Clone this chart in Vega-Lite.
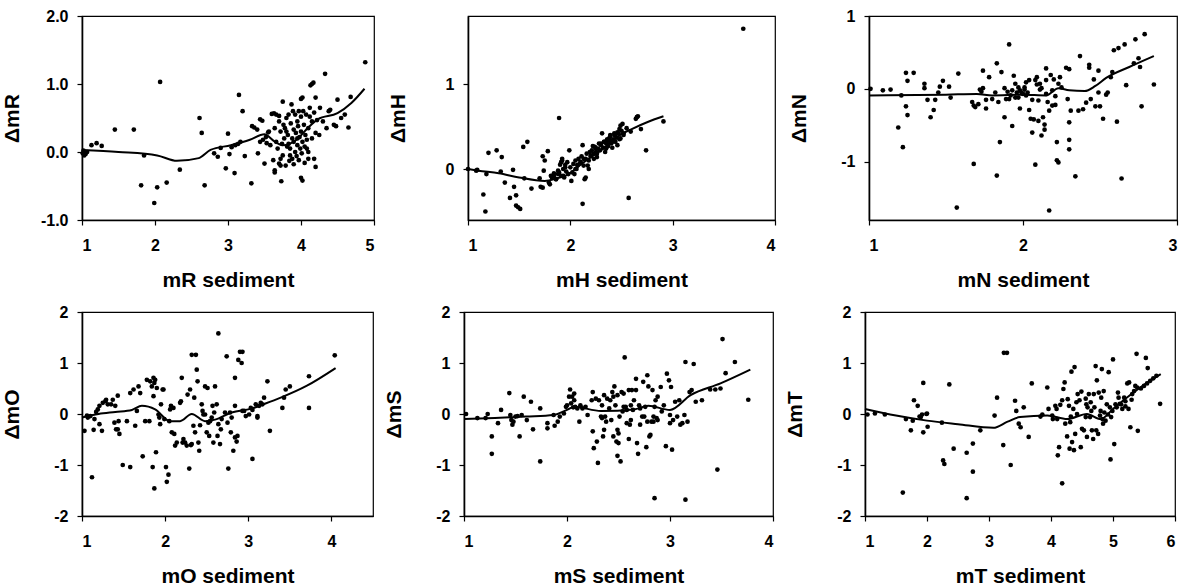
{
"$schema": "https://vega.github.io/schema/vega-lite/v6.json",
"padding": {"left": 0, "top": 7, "right": 0, "bottom": 0},
"background": "white",
"config": {
 "locale": {"number": {"decimal": ".", "thousands": ",", "grouping": [3], "currency": ["$", ""], "minus": "-"}},
 "font": "Liberation Sans",
 "view": {"stroke": "black", "strokeWidth": 1.2},
 "axis": {"grid": false, "domainColor": "black", "domainWidth": 1.6, "tickColor": "black", "tickSize": 5, "tickWidth": 1.2, "labelColor": "black", "labelFont": "Liberation Sans", "labelFontSize": 16, "labelFontWeight": "bold", "titleColor": "black", "titleFont": "Liberation Sans", "titleFontSize": 21, "titleFontWeight": "bold", "labelOverlap": false},
 "axisX": {"labelPadding": 12, "minExtent": 33, "maxExtent": 33, "titlePadding": 16, "format": ".0f"},
 "axisY": {"labelPadding": 9, "minExtent": 42, "maxExtent": 42, "titlePadding": 18},
 "circle": {"color": "black", "size": 22, "opacity": 1},
 "line": {"color": "black", "strokeWidth": 2, "interpolate": "monotone"}
},
"datasets": {
"p1": [{"x":1.01,"y":-0.02},{"x":1.03,"y":-0.05},{"x":1.05,"y":-0.03},{"x":1.07,"y":0.0},{"x":1.02,"y":0.02},{"x":1.13,"y":0.1},{"x":1.2,"y":0.13},{"x":1.27,"y":0.09},{"x":1.45,"y":0.33},{"x":1.71,"y":0.33},{"x":1.81,"y":-0.49},{"x":1.85,"y":-0.05},{"x":1.99,"y":-0.75},{"x":2.07,"y":1.03},{"x":2.03,"y":-0.52},{"x":2.16,"y":-0.45},{"x":2.34,"y":-0.26},{"x":2.61,"y":0.5},{"x":2.64,"y":0.28},{"x":2.68,"y":-0.49},{"x":2.81,"y":-0.02},{"x":2.86,"y":-0.07},{"x":2.9,"y":0.06},{"x":2.97,"y":-0.24},{"x":3.0,"y":0.27},{"x":3.02,"y":-0.03},{"x":3.09,"y":-0.31},{"x":3.05,"y":0.07},{"x":3.1,"y":0.1},{"x":3.15,"y":0.84},{"x":3.14,"y":0.12},{"x":3.17,"y":0.15},{"x":3.2,"y":0.6},{"x":3.23,"y":-0.06},{"x":3.32,"y":-0.46},{"x":3.33,"y":0.38},{"x":3.36,"y":0.36},{"x":3.4,"y":0.33},{"x":3.41,"y":-0.02},{"x":3.44,"y":0.48},{"x":3.47,"y":0.46},{"x":3.44,"y":0.15},{"x":3.48,"y":0.18},{"x":3.5,"y":-0.17},{"x":3.52,"y":0.22},{"x":3.53,"y":0.13},{"x":3.55,"y":0.29},{"x":3.6,"y":0.56},{"x":3.63,"y":0.57},{"x":3.66,"y":0.55},{"x":3.7,"y":0.53},{"x":3.62,"y":-0.12},{"x":3.64,"y":-0.27},{"x":3.64,"y":-0.3},{"x":3.7,"y":-0.17},{"x":3.72,"y":-0.2},{"x":3.73,"y":-0.43},{"x":3.75,"y":0.74},{"x":3.72,"y":-0.1},{"x":3.76,"y":0.4},{"x":3.78,"y":0.35},{"x":3.8,"y":0.3},{"x":3.8,"y":0.5},{"x":3.82,"y":0.25},{"x":3.83,"y":0.12},{"x":3.85,"y":0.05},{"x":3.85,"y":-0.05},{"x":3.86,"y":0.42},{"x":3.87,"y":0.7},{"x":3.88,"y":0.2},{"x":3.88,"y":-0.1},{"x":3.9,"y":0.15},{"x":3.9,"y":0.33},{"x":3.9,"y":-0.18},{"x":3.92,"y":0.0},{"x":3.92,"y":0.55},{"x":3.93,"y":0.28},{"x":3.94,"y":-0.06},{"x":3.95,"y":0.1},{"x":3.95,"y":0.45},{"x":3.96,"y":0.38},{"x":3.97,"y":0.6},{"x":3.97,"y":-0.12},{"x":3.98,"y":0.22},{"x":3.99,"y":0.05},{"x":4.0,"y":0.52},{"x":4.0,"y":0.3},{"x":4.01,"y":-0.02},{"x":4.02,"y":0.15},{"x":4.03,"y":0.6},{"x":4.04,"y":0.4},{"x":4.05,"y":0.08},{"x":4.06,"y":0.25},{"x":4.07,"y":0.55},{"x":4.08,"y":0.18},{"x":4.1,"y":0.35},{"x":4.1,"y":0.0},{"x":4.12,"y":0.52},{"x":4.12,"y":0.65},{"x":4.15,"y":0.45},{"x":4.15,"y":0.2},{"x":4.18,"y":0.58},{"x":4.22,"y":0.47},{"x":3.74,"y":0.12},{"x":3.75,"y":-0.05},{"x":3.77,"y":0.2},{"x":3.79,"y":-0.2},{"x":3.81,"y":0.08},{"x":3.84,"y":-0.13},{"x":3.72,"y":0.3},{"x":3.7,"y":0.45},{"x":3.68,"y":0.05},{"x":3.66,"y":0.15},{"x":3.64,"y":0.35},{"x":3.58,"y":0.1},{"x":3.56,"y":0.3},{"x":3.83,"y":0.55},{"x":3.89,"y":0.6},{"x":3.95,"y":0.2},{"x":4.33,"y":1.15},{"x":4.15,"y":1.0},{"x":4.17,"y":1.02},{"x":4.13,"y":0.98},{"x":4.2,"y":0.8},{"x":4.0,"y":0.78},{"x":4.02,"y":0.8},{"x":4.26,"y":0.65},{"x":4.38,"y":0.6},{"x":4.4,"y":0.62},{"x":4.5,"y":0.77},{"x":4.6,"y":0.55},{"x":4.68,"y":0.81},{"x":4.88,"y":1.32},{"x":4.65,"y":0.36},{"x":4.55,"y":0.5},{"x":4.45,"y":0.4},{"x":4.35,"y":0.35},{"x":4.3,"y":0.45},{"x":4.48,"y":0.38},{"x":4.2,"y":0.28},{"x":4.25,"y":0.25},{"x":4.0,"y":-0.38},{"x":4.02,"y":-0.42},{"x":4.2,"y":-0.22},{"x":4.18,"y":-0.1},{"x":4.1,"y":-0.1},{"x":4.05,"y":-0.16},{"x":4.08,"y":0.05}],
"l1": [{"x":1.0,"y":0.03},{"x":1.5,"y":0.0},{"x":2.03,"y":-0.05},{"x":2.3,"y":-0.13},{"x":2.6,"y":-0.09},{"x":2.76,"y":0.03},{"x":3.04,"y":0.1},{"x":3.3,"y":0.18},{"x":3.5,"y":0.26},{"x":3.63,"y":0.16},{"x":3.75,"y":0.1},{"x":3.96,"y":0.2},{"x":4.09,"y":0.35},{"x":4.23,"y":0.48},{"x":4.5,"y":0.57},{"x":4.69,"y":0.72},{"x":4.87,"y":0.93}],
"p2": [{"x":1.0,"y":0.0},{"x":1.09,"y":-0.01},{"x":1.08,"y":-0.02},{"x":1.18,"y":-0.06},{"x":1.2,"y":0.19},{"x":1.28,"y":0.22},{"x":1.33,"y":0.14},{"x":1.32,"y":-0.03},{"x":1.15,"y":-0.3},{"x":1.17,"y":-0.5},{"x":1.36,"y":-0.16},{"x":1.41,"y":-0.34},{"x":1.44,"y":-0.01},{"x":1.45,"y":-0.21},{"x":1.47,"y":-0.31},{"x":1.47,"y":-0.43},{"x":1.49,"y":-0.45},{"x":1.51,"y":-0.47},{"x":1.54,"y":0.26},{"x":1.58,"y":0.32},{"x":1.55,"y":-0.11},{"x":1.62,"y":-0.23},{"x":1.7,"y":-0.11},{"x":1.71,"y":-0.21},{"x":1.73,"y":-0.22},{"x":1.73,"y":0.15},{"x":1.75,"y":0.1},{"x":1.74,"y":-0.02},{"x":1.78,"y":0.21},{"x":1.79,"y":-0.16},{"x":1.8,"y":-0.18},{"x":1.81,"y":-0.08},{"x":1.84,"y":-0.08},{"x":1.86,"y":-0.12},{"x":1.88,"y":-0.06},{"x":1.89,"y":0.6},{"x":1.89,"y":-0.04},{"x":1.91,"y":0.08},{"x":1.92,"y":0.12},{"x":1.93,"y":-0.08},{"x":1.95,"y":0.02},{"x":1.99,"y":0.22},{"x":2.01,"y":-0.14},{"x":2.04,"y":-0.06},{"x":2.05,"y":0.0},{"x":2.07,"y":0.04},{"x":2.1,"y":0.08},{"x":2.12,"y":0.28},{"x":2.13,"y":0.12},{"x":2.14,"y":-0.12},{"x":2.15,"y":-0.1},{"x":2.12,"y":-0.41},{"x":2.17,"y":0.04},{"x":2.18,"y":0.0},{"x":2.2,"y":0.16},{"x":2.22,"y":0.27},{"x":2.23,"y":0.12},{"x":2.25,"y":0.24},{"x":2.26,"y":0.18},{"x":2.3,"y":0.3},{"x":2.31,"y":0.42},{"x":2.33,"y":0.32},{"x":2.35,"y":0.24},{"x":2.36,"y":0.34},{"x":2.38,"y":0.36},{"x":2.39,"y":0.4},{"x":2.41,"y":0.32},{"x":2.43,"y":0.42},{"x":2.44,"y":0.4},{"x":2.46,"y":0.43},{"x":2.48,"y":0.47},{"x":2.49,"y":0.51},{"x":2.51,"y":0.53},{"x":2.52,"y":0.42},{"x":2.49,"y":0.36},{"x":2.59,"y":0.44},{"x":2.57,"y":-0.34},{"x":2.64,"y":0.59},{"x":2.65,"y":0.61},{"x":2.66,"y":0.62},{"x":2.69,"y":0.47},{"x":2.74,"y":0.22},{"x":2.91,"y":0.56},{"x":3.69,"y":1.65},{"x":1.82,"y":-0.1},{"x":1.84,"y":-0.05},{"x":1.86,"y":-0.12},{"x":1.88,"y":-0.02},{"x":1.9,"y":0.05},{"x":1.91,"y":-0.08},{"x":1.92,"y":0.1},{"x":1.93,"y":0.0},{"x":1.94,"y":-0.1},{"x":1.95,"y":0.05},{"x":1.96,"y":-0.03},{"x":1.97,"y":0.08},{"x":1.98,"y":-0.06},{"x":2.0,"y":0.02},{"x":2.02,"y":-0.04},{"x":2.03,"y":0.06},{"x":2.05,"y":0.1},{"x":2.06,"y":0.0},{"x":2.07,"y":0.05},{"x":2.08,"y":0.12},{"x":2.1,"y":0.08},{"x":2.11,"y":0.15},{"x":2.13,"y":0.04},{"x":2.15,"y":0.12},{"x":2.16,"y":0.18},{"x":2.18,"y":0.1},{"x":2.19,"y":0.2},{"x":2.2,"y":0.15},{"x":2.21,"y":0.22},{"x":2.23,"y":0.18},{"x":2.24,"y":0.26},{"x":2.25,"y":0.2},{"x":2.26,"y":0.14},{"x":2.27,"y":0.24},{"x":2.28,"y":0.3},{"x":2.29,"y":0.22},{"x":2.3,"y":0.28},{"x":2.32,"y":0.25},{"x":2.33,"y":0.32},{"x":2.34,"y":0.2},{"x":2.35,"y":0.3},{"x":2.36,"y":0.35},{"x":2.37,"y":0.27},{"x":2.38,"y":0.33},{"x":2.39,"y":0.38},{"x":2.4,"y":0.3},{"x":2.41,"y":0.25},{"x":2.42,"y":0.35},{"x":2.43,"y":0.4},{"x":2.44,"y":0.32},{"x":2.45,"y":0.37},{"x":2.46,"y":0.28},{"x":2.47,"y":0.42},{"x":2.48,"y":0.35},{"x":2.5,"y":0.45},{"x":2.52,"y":0.4},{"x":2.55,"y":0.48}],
"l2": [{"x":1.0,"y":0.0},{"x":1.1,"y":-0.02},{"x":1.3,"y":-0.05},{"x":1.5,"y":-0.1},{"x":1.75,"y":-0.14},{"x":1.87,"y":-0.11},{"x":1.97,"y":-0.07},{"x":2.1,"y":0.05},{"x":2.2,"y":0.14},{"x":2.3,"y":0.22},{"x":2.4,"y":0.32},{"x":2.5,"y":0.41},{"x":2.6,"y":0.47},{"x":2.75,"y":0.55},{"x":2.91,"y":0.62}],
"p3": [{"x":1.01,"y":0},{"x":1.09,"y":-0.02},{"x":1.14,"y":-0.01},{"x":1.19,"y":-0.53},{"x":1.21,"y":-0.09},{"x":1.22,"y":-0.8},{"x":1.24,"y":0.22},{"x":1.24,"y":-0.24},{"x":1.25,"y":-0.36},{"x":1.25,"y":0.11},{"x":1.29,"y":0.22},{"x":1.36,"y":0.07},{"x":1.36,"y":0.01},{"x":1.38,"y":-0.15},{"x":1.4,"y":-0.39},{"x":1.42,"y":-0.29},{"x":1.43,"y":-0.15},{"x":1.45,"y":-0.05},{"x":1.46,"y":0.03},{"x":1.48,"y":0.11},{"x":1.52,"y":0.03},{"x":1.53,"y":-0.12},{"x":1.57,"y":-1.63},{"x":1.58,"y":0.21},{"x":1.67,"y":-0.18},{"x":1.68,"y":-1.03},{"x":1.68,"y":-0.23},{"x":1.69,"y":-0.25},{"x":1.71,"y":-0.21},{"x":1.72,"y":-0.01},{"x":1.73,"y":-0.04},{"x":1.74,"y":0.25},{"x":1.74,"y":0.01},{"x":1.76,"y":-0.27},{"x":1.76,"y":-0.15},{"x":1.78,"y":0.16},{"x":1.8,"y":-0.14},{"x":1.82,"y":-0.05},{"x":1.83,"y":0.35},{"x":1.83,"y":-1.19},{"x":1.84,"y":-0.18},{"x":1.85,"y":-0.73},{"x":1.86,"y":0.23},{"x":1.88,"y":0.01},{"x":1.88,"y":-0.39},{"x":1.89,"y":-0.14},{"x":1.9,"y":-0.04},{"x":1.91,"y":0.61},{"x":1.91,"y":-0.14},{"x":1.92,"y":-0.09},{"x":1.93,"y":-0.51},{"x":1.93,"y":-0.02},{"x":1.94,"y":0.18},{"x":1.95,"y":-0.12},{"x":1.95,"y":0.07},{"x":1.96,"y":-0.05},{"x":1.97,"y":0.02},{"x":1.97,"y":-0.12},{"x":1.98,"y":-0.27},{"x":1.98,"y":-0.02},{"x":1.99,"y":-0.05},{"x":2.0,"y":-0.07},{"x":2.01,"y":-0.01},{"x":2.01,"y":0.02},{"x":2.02,"y":0.09},{"x":2.02,"y":-0.09},{"x":2.03,"y":-0.05},{"x":2.04,"y":0.12},{"x":2.04,"y":-0.29},{"x":2.05,"y":-0.41},{"x":2.06,"y":-0.15},{"x":2.06,"y":-0.6},{"x":2.07,"y":-0.42},{"x":2.08,"y":-1.04},{"x":2.08,"y":0.12},{"x":2.09,"y":0.16},{"x":2.09,"y":0.06},{"x":2.1,"y":-0.16},{"x":2.1,"y":-0.44},{"x":2.11,"y":-0.01},{"x":2.11,"y":0.07},{"x":2.12,"y":-0.64},{"x":2.12,"y":0.01},{"x":2.13,"y":-0.39},{"x":2.14,"y":-0.56},{"x":2.14,"y":-0.49},{"x":2.15,"y":0.28},{"x":2.15,"y":-0.07},{"x":2.15,"y":0.12},{"x":2.16,"y":-0.18},{"x":2.17,"y":-1.67},{"x":2.17,"y":-0.3},{"x":2.18,"y":0.19},{"x":2.19,"y":-0.23},{"x":2.19,"y":-0.02},{"x":2.2,"y":0.13},{"x":2.21,"y":-0.22},{"x":2.21,"y":-0.1},{"x":2.22,"y":-0.73},{"x":2.22,"y":-0.98},{"x":2.23,"y":-1.01},{"x":2.23,"y":0.07},{"x":2.24,"y":0.16},{"x":2.25,"y":0.02},{"x":2.28,"y":0.29},{"x":2.29,"y":-0.14},{"x":2.3,"y":0.27},{"x":2.3,"y":-0.46},{"x":2.3,"y":-0.7},{"x":2.3,"y":-0.83},{"x":2.31,"y":-0.3},{"x":2.34,"y":-1.2},{"x":2.36,"y":-0.3},{"x":2.37,"y":0.45},{"x":2.39,"y":-0.28},{"x":2.41,"y":-0.19},{"x":2.43,"y":0.33},{"x":2.43,"y":0.29},{"x":2.44,"y":-0.14},{"x":2.46,"y":0.13},{"x":2.47,"y":-0.24},{"x":2.49,"y":0.25},{"x":2.49,"y":-0.05},{"x":2.5,"y":-0.24},{"x":2.52,"y":-0.41},{"x":2.54,"y":-0.08},{"x":2.55,"y":-0.05},{"x":2.57,"y":0.16},{"x":2.58,"y":0.23},{"x":2.59,"y":0.53},{"x":2.61,"y":-0.45},{"x":2.62,"y":0.56},{"x":2.64,"y":-1.23},{"x":2.66,"y":0.61},{"x":2.67,"y":0.05},{"x":2.73,"y":0.68},{"x":2.72,"y":0.35},{"x":2.75,"y":0.42},{"x":2.76,"y":0.3},{"x":2.77,"y":-0.24},{"x":2.79,"y":0.75},{"x":2.85,"y":0.06}],
"l3": [{"x":1.0,"y":-0.09},{"x":1.5,"y":-0.08},{"x":1.7,"y":-0.07},{"x":1.8,"y":-0.09},{"x":2.0,"y":-0.08},{"x":2.15,"y":-0.09},{"x":2.23,"y":0.01},{"x":2.3,"y":-0.02},{"x":2.4,"y":-0.03},{"x":2.47,"y":0.04},{"x":2.54,"y":0.15},{"x":2.69,"y":0.3},{"x":2.85,"y":0.45}],
"p4": [{"x":1.03,"y":-0.33},{"x":1.06,"y":-0.03},{"x":1.07,"y":-0.07},{"x":1.1,"y":-0.04},{"x":1.12,"y":-1.24},{"x":1.14,"y":-0.31},{"x":1.15,"y":-0.1},{"x":1.17,"y":0.04},{"x":1.19,"y":0.09},{"x":1.21,"y":0.16},{"x":1.21,"y":-0.2},{"x":1.24,"y":-0.33},{"x":1.25,"y":0.22},{"x":1.28,"y":0.25},{"x":1.29,"y":0.28},{"x":1.31,"y":0.19},{"x":1.35,"y":0.19},{"x":1.37,"y":0.28},{"x":1.39,"y":-0.17},{"x":1.4,"y":0.16},{"x":1.41,"y":-0.3},{"x":1.43,"y":-0.3},{"x":1.43,"y":0.36},{"x":1.44,"y":-0.14},{"x":1.45,"y":-0.39},{"x":1.49,"y":-1.0},{"x":1.54,"y":-0.14},{"x":1.58,"y":-1.04},{"x":1.58,"y":0.41},{"x":1.62,"y":0.48},{"x":1.64,"y":-0.23},{"x":1.66,"y":0.06},{"x":1.68,"y":0.54},{"x":1.7,"y":0.41},{"x":1.73,"y":-0.83},{"x":1.76,"y":-0.14},{"x":1.78,"y":0.67},{"x":1.81,"y":-0.14},{"x":1.82,"y":0.64},{"x":1.84,"y":0.54},{"x":1.85,"y":-1.04},{"x":1.86,"y":0.71},{"x":1.86,"y":0.35},{"x":1.87,"y":0.61},{"x":1.88,"y":0.67},{"x":1.89,"y":-0.75},{"x":1.87,"y":-1.46},{"x":1.9,"y":0.51},{"x":1.92,"y":-0.01},{"x":1.93,"y":-0.07},{"x":1.94,"y":-0.2},{"x":1.95,"y":0.19},{"x":1.97,"y":0.48},{"x":1.98,"y":0.48},{"x":1.99,"y":-0.1},{"x":2.01,"y":-1.04},{"x":2.02,"y":-1.33},{"x":2.04,"y":-1.19},{"x":2.05,"y":-0.14},{"x":2.06,"y":0.09},{"x":2.07,"y":0.16},{"x":2.08,"y":-0.36},{"x":2.1,"y":0.12},{"x":2.11,"y":-0.39},{"x":2.12,"y":-0.62},{"x":2.14,"y":-0.56},{"x":2.18,"y":0.22},{"x":2.19,"y":0.25},{"x":2.2,"y":0.71},{"x":2.21,"y":-0.56},{"x":2.22,"y":-0.49},{"x":2.24,"y":-0.56},{"x":2.26,"y":-0.62},{"x":2.27,"y":0.38},{"x":2.29,"y":-1.07},{"x":2.3,"y":0.48},{"x":2.31,"y":-0.61},{"x":2.32,"y":-0.59},{"x":2.34,"y":-0.23},{"x":2.35,"y":0.32},{"x":2.36,"y":-0.36},{"x":2.37,"y":1.16},{"x":2.32,"y":1.16},{"x":2.38,"y":0.87},{"x":2.39,"y":0.64},{"x":2.4,"y":-0.56},{"x":2.41,"y":-0.72},{"x":2.42,"y":-0.22},{"x":2.44,"y":0.19},{"x":2.45,"y":0.06},{"x":2.46,"y":-0.01},{"x":2.48,"y":-0.01},{"x":2.48,"y":0.54},{"x":2.5,"y":-0.36},{"x":2.51,"y":0.51},{"x":2.52,"y":-0.17},{"x":2.53,"y":-0.43},{"x":2.54,"y":-0.14},{"x":2.56,"y":-0.07},{"x":2.57,"y":0.16},{"x":2.58,"y":-0.56},{"x":2.59,"y":0.03},{"x":2.6,"y":0.54},{"x":2.62,"y":0.19},{"x":2.63,"y":-0.43},{"x":2.64,"y":1.58},{"x":2.64,"y":-0.2},{"x":2.66,"y":-0.59},{"x":2.67,"y":-0.3},{"x":2.68,"y":-0.1},{"x":2.72,"y":0.03},{"x":2.74,"y":1.13},{"x":2.75,"y":-0.17},{"x":2.76,"y":-1.07},{"x":2.78,"y":0.03},{"x":2.79,"y":-0.36},{"x":2.8,"y":-0.07},{"x":2.82,"y":-0.72},{"x":2.84,"y":0.16},{"x":2.84,"y":0.71},{"x":2.84,"y":-0.46},{"x":2.86,"y":-0.54},{"x":2.87,"y":-0.43},{"x":2.88,"y":1.06},{"x":2.9,"y":1.22},{"x":2.93,"y":1.22},{"x":2.92,"y":1.0},{"x":2.93,"y":0.06},{"x":2.95,"y":0.06},{"x":2.97,"y":-0.04},{"x":3.01,"y":-0.01},{"x":3.03,"y":0.12},{"x":3.05,"y":0.08},{"x":3.05,"y":-0.88},{"x":3.09,"y":0.19},{"x":3.11,"y":-0.04},{"x":3.11,"y":-0.07},{"x":3.13,"y":0.16},{"x":3.15,"y":0.22},{"x":3.17,"y":0.19},{"x":3.19,"y":0.32},{"x":3.23,"y":0.64},{"x":3.26,"y":-0.33},{"x":3.41,"y":0.12},{"x":3.43,"y":0.32},{"x":3.45,"y":0.48},{"x":3.5,"y":0.54},{"x":3.73,"y":0.12},{"x":3.73,"y":0.74},{"x":4.04,"y":1.15}],
"l4": [{"x":1.0,"y":-0.07},{"x":1.2,"y":0.0},{"x":1.4,"y":0.04},{"x":1.6,"y":0.08},{"x":1.72,"y":0.16},{"x":1.88,"y":0.09},{"x":2.06,"y":-0.14},{"x":2.18,"y":-0.14},{"x":2.32,"y":0.0},{"x":2.48,"y":-0.14},{"x":2.6,"y":-0.11},{"x":2.8,"y":0.03},{"x":3.03,"y":0.1},{"x":3.2,"y":0.2},{"x":3.39,"y":0.32},{"x":3.7,"y":0.55},{"x":4.05,"y":0.9}],
"p5": [{"x":1.02,"y":0},{"x":1.13,"y":-0.08},{"x":1.21,"y":-0.08},{"x":1.23,"y":0.0},{"x":1.27,"y":-0.44},{"x":1.27,"y":-0.78},{"x":1.33,"y":-0.18},{"x":1.36,"y":0.08},{"x":1.44,"y":0.41},{"x":1.45,"y":-0.02},{"x":1.46,"y":-0.12},{"x":1.47,"y":-0.21},{"x":1.48,"y":-0.15},{"x":1.5,"y":-0.05},{"x":1.52,"y":-0.04},{"x":1.54,"y":-0.44},{"x":1.56,"y":-0.02},{"x":1.58,"y":0.34},{"x":1.61,"y":-0.12},{"x":1.65,"y":0.24},{"x":1.67,"y":-0.3},{"x":1.74,"y":0.11},{"x":1.74,"y":-0.93},{"x":1.81,"y":-0.18},{"x":1.81,"y":-0.28},{"x":1.87,"y":-0.02},{"x":1.88,"y":-0.23},{"x":1.91,"y":-0.15},{"x":1.93,"y":-0.05},{"x":1.97,"y":0.01},{"x":1.99,"y":0.14},{"x":2.0,"y":0.17},{"x":2.02,"y":0.34},{"x":2.03,"y":0.48},{"x":2.04,"y":0.21},{"x":2.05,"y":0.34},{"x":2.06,"y":0.13},{"x":2.07,"y":0.27},{"x":2.07,"y":0.4},{"x":2.08,"y":0.14},{"x":2.1,"y":0.11},{"x":2.12,"y":-0.15},{"x":2.13,"y":0.17},{"x":2.15,"y":0.11},{"x":2.18,"y":0.14},{"x":2.2,"y":-0.02},{"x":2.24,"y":0.27},{"x":2.25,"y":0.43},{"x":2.25,"y":-0.34},{"x":2.26,"y":-0.67},{"x":2.28,"y":0.3},{"x":2.29,"y":-0.54},{"x":2.3,"y":-0.96},{"x":2.31,"y":0.27},{"x":2.33,"y":-0.05},{"x":2.34,"y":-0.08},{"x":2.34,"y":0.17},{"x":2.35,"y":-0.44},{"x":2.36,"y":0.37},{"x":2.36,"y":-0.31},{"x":2.37,"y":-0.05},{"x":2.38,"y":-0.15},{"x":2.39,"y":0.3},{"x":2.41,"y":0.11},{"x":2.42,"y":0.27},{"x":2.43,"y":-0.12},{"x":2.44,"y":0.43},{"x":2.45,"y":0.34},{"x":2.45,"y":-0.44},{"x":2.46,"y":0.54},{"x":2.47,"y":0.17},{"x":2.48,"y":-0.54},{"x":2.49,"y":-0.31},{"x":2.49,"y":-0.82},{"x":2.49,"y":0.37},{"x":2.5,"y":-0.38},{"x":2.5,"y":-0.57},{"x":2.51,"y":-0.05},{"x":2.52,"y":-0.93},{"x":2.53,"y":0.43},{"x":2.54,"y":0.05},{"x":2.55,"y":0.14},{"x":2.55,"y":0.4},{"x":2.56,"y":1.11},{"x":2.57,"y":0.14},{"x":2.58,"y":0.08},{"x":2.58,"y":-0.18},{"x":2.6,"y":0.47},{"x":2.6,"y":-0.49},{"x":2.61,"y":-0.21},{"x":2.62,"y":-0.12},{"x":2.62,"y":0.17},{"x":2.63,"y":0.47},{"x":2.64,"y":0.08},{"x":2.65,"y":0.27},{"x":2.67,"y":0.69},{"x":2.67,"y":0.47},{"x":2.68,"y":-0.57},{"x":2.69,"y":-0.78},{"x":2.7,"y":0.17},{"x":2.71,"y":0.11},{"x":2.71,"y":-0.21},{"x":2.73,"y":-0.05},{"x":2.74,"y":0.63},{"x":2.75,"y":-0.05},{"x":2.76,"y":0.14},{"x":2.77,"y":-0.65},{"x":2.78,"y":0.76},{"x":2.78,"y":-0.15},{"x":2.79,"y":0.54},{"x":2.8,"y":-0.44},{"x":2.81,"y":-0.41},{"x":2.82,"y":-0.15},{"x":2.83,"y":0.47},{"x":2.84,"y":-0.05},{"x":2.84,"y":-0.15},{"x":2.85,"y":0.14},{"x":2.86,"y":0.27},{"x":2.87,"y":-0.08},{"x":2.88,"y":-0.12},{"x":2.88,"y":0.34},{"x":2.85,"y":-1.65},{"x":2.91,"y":0.53},{"x":2.92,"y":0.05},{"x":2.94,"y":0.17},{"x":2.96,"y":-0.63},{"x":2.97,"y":0.79},{"x":2.99,"y":0.66},{"x":3.0,"y":-0.18},{"x":3.0,"y":-0.02},{"x":3.01,"y":0.53},{"x":3.02,"y":-0.7},{"x":3.03,"y":-0.12},{"x":3.05,"y":0.24},{"x":3.07,"y":-0.05},{"x":3.09,"y":0.27},{"x":3.1,"y":-0.21},{"x":3.12,"y":-0.18},{"x":3.15,"y":-1.68},{"x":3.14,"y":-0.02},{"x":3.15,"y":1.02},{"x":3.17,"y":-0.15},{"x":3.19,"y":0.43},{"x":3.21,"y":0.47},{"x":3.23,"y":0.98},{"x":3.25,"y":0.24},{"x":3.31,"y":0.27},{"x":3.39,"y":0.48},{"x":3.44,"y":0.48},{"x":3.46,"y":-1.09},{"x":3.49,"y":0.5},{"x":3.51,"y":1.47},{"x":3.54,"y":0.8},{"x":3.63,"y":1.02},{"x":3.76,"y":0.28}],
"l5": [{"x":1.0,"y":-0.1},{"x":1.3,"y":-0.08},{"x":1.6,"y":-0.05},{"x":1.87,"y":-0.02},{"x":2.0,"y":0.08},{"x":2.07,"y":0.14},{"x":2.33,"y":0.06},{"x":2.65,"y":0.09},{"x":2.79,"y":0.16},{"x":3.0,"y":0.08},{"x":3.2,"y":0.37},{"x":3.49,"y":0.6},{"x":3.78,"y":0.87}],
"p6": [{"x":1.04,"y":-0.01},{"x":1.16,"y":0.01},{"x":1.32,"y":-0.01},{"x":1.61,"y":-1.54},{"x":1.66,"y":-0.1},{"x":1.74,"y":-0.32},{"x":1.77,"y":-0.13},{"x":1.79,"y":0.27},{"x":1.85,"y":0.16},{"x":1.88,"y":-0.05},{"x":1.9,"y":-0.06},{"x":1.92,"y":-0.01},{"x":1.94,"y":-0.36},{"x":1.94,"y":0.61},{"x":1.99,"y":0.0},{"x":2.0,"y":0.01},{"x":2.01,"y":-0.25},{"x":2.24,"y":-0.17},{"x":2.26,"y":-0.91},{"x":2.28,"y":-0.98},{"x":2.43,"y":-0.68},{"x":2.36,"y":0.58},{"x":2.64,"y":-0.76},{"x":2.64,"y":-1.65},{"x":2.74,"y":-0.58},{"x":2.74,"y":-1.13},{"x":2.86,"y":-0.32},{"x":3.09,"y":-0.03},{"x":3.13,"y":0.32},{"x":3.23,"y":-0.61},{"x":3.24,"y":1.2},{"x":3.29,"y":1.2},{"x":3.35,"y":-1.0},{"x":3.42,"y":0.26},{"x":3.44,"y":0.06},{"x":3.48,"y":-0.19},{"x":3.51,"y":-0.26},{"x":3.56,"y":0.13},{"x":3.64,"y":-0.45},{"x":3.69,"y":0.6},{"x":3.83,"y":-0.05},{"x":3.86,"y":-0.01},{"x":3.94,"y":0.52},{"x":3.96,"y":0.1},{"x":4.02,"y":-0.03},{"x":4.03,"y":-0.1},{"x":4.07,"y":0.16},{"x":4.09,"y":0.1},{"x":4.1,"y":-0.1},{"x":4.11,"y":-0.81},{"x":4.13,"y":-0.65},{"x":4.15,"y":0.18},{"x":4.18,"y":0.27},{"x":4.2,"y":0.49},{"x":4.22,"y":0.62},{"x":4.23,"y":-0.19},{"x":4.18,"y":-1.36},{"x":4.26,"y":-0.44},{"x":4.27,"y":0.29},{"x":4.29,"y":0.16},{"x":4.3,"y":-0.68},{"x":4.31,"y":-0.16},{"x":4.32,"y":-0.05},{"x":4.34,"y":-0.55},{"x":4.36,"y":0.1},{"x":4.37,"y":-0.71},{"x":4.33,"y":0.83},{"x":4.39,"y":-0.39},{"x":4.41,"y":0.23},{"x":4.42,"y":0.0},{"x":4.43,"y":0.39},{"x":4.38,"y":0.92},{"x":4.46,"y":0.27},{"x":4.48,"y":-0.65},{"x":4.49,"y":0.44},{"x":4.5,"y":-0.29},{"x":4.53,"y":-0.32},{"x":4.56,"y":0.3},{"x":4.56,"y":-0.06},{"x":4.57,"y":0.19},{"x":4.58,"y":-0.45},{"x":4.59,"y":0.13},{"x":4.61,"y":0.39},{"x":4.63,"y":-0.06},{"x":4.64,"y":0.23},{"x":4.65,"y":0.06},{"x":4.66,"y":-0.32},{"x":4.68,"y":-0.49},{"x":4.69,"y":0.39},{"x":4.7,"y":0.13},{"x":4.72,"y":0.94},{"x":4.73,"y":-0.32},{"x":4.74,"y":0.66},{"x":4.76,"y":-0.39},{"x":4.77,"y":0.42},{"x":4.79,"y":-0.03},{"x":4.8,"y":0.06},{"x":4.81,"y":0.32},{"x":4.82,"y":0.88},{"x":4.83,"y":-0.1},{"x":4.84,"y":-0.19},{"x":4.85,"y":0.45},{"x":4.86,"y":0.03},{"x":4.88,"y":-0.13},{"x":4.9,"y":0.19},{"x":4.92,"y":-0.01},{"x":4.93,"y":0.82},{"x":4.95,"y":0.13},{"x":4.96,"y":-0.89},{"x":4.97,"y":-0.06},{"x":4.99,"y":0.06},{"x":5.0,"y":1.07},{"x":5.02,"y":-0.59},{"x":5.04,"y":0.19},{"x":5.06,"y":0.13},{"x":5.08,"y":0.42},{"x":5.09,"y":0.32},{"x":5.11,"y":0.2},{"x":5.13,"y":0.19},{"x":5.15,"y":0.1},{"x":5.18,"y":0.32},{"x":5.2,"y":0.25},{"x":5.23,"y":0.6},{"x":5.26,"y":0.62},{"x":5.28,"y":-0.26},{"x":5.31,"y":0.39},{"x":5.34,"y":0.45},{"x":5.36,"y":0.55},{"x":5.39,"y":0.52},{"x":5.4,"y":-0.33},{"x":5.38,"y":1.18},{"x":5.45,"y":0.5},{"x":5.5,"y":0.55},{"x":5.53,"y":1.1},{"x":5.56,"y":0.9},{"x":5.55,"y":0.6},{"x":5.6,"y":0.65},{"x":5.65,"y":0.7},{"x":5.7,"y":0.75},{"x":5.76,"y":0.2},{"x":5.2,"y":0.15},{"x":5.25,"y":0.1},{"x":5.3,"y":0.28}],
"l6": [{"x":1.0,"y":0.1},{"x":1.5,"y":-0.03},{"x":2.0,"y":-0.13},{"x":2.5,"y":-0.2},{"x":3.07,"y":-0.27},{"x":3.3,"y":-0.15},{"x":3.5,"y":-0.06},{"x":3.94,"y":-0.03},{"x":4.26,"y":-0.1},{"x":4.58,"y":0.0},{"x":4.8,"y":-0.1},{"x":5.0,"y":0.1},{"x":5.2,"y":0.3},{"x":5.44,"y":0.52},{"x":5.77,"y":0.78}]
},
"vconcat": [
 {"hconcat": [
  {"width": 292, "height": 204,
   "encoding": {"x": {"field": "x", "type": "quantitative", "scale": {"domain": [1, 5], "nice": false, "zero": false}, "axis": {"values": [1, 2, 3, 4, 5], "title": "mR sediment"}},
                "y": {"field": "y", "type": "quantitative", "scale": {"domain": [-1, 2], "nice": false, "zero": false}, "axis": {"values": [-1, 0, 1, 2], "format": ".1f", "title": "ΔmR"}}},
   "layer": [{"data": {"name": "p1"}, "mark": "circle"}, {"data": {"name": "l1"}, "mark": "line"}]},
  {"width": 307, "height": 204,
   "encoding": {"x": {"field": "x", "type": "quantitative", "scale": {"domain": [1, 4], "nice": false, "zero": false}, "axis": {"values": [1, 2, 3, 4], "title": "mH sediment"}},
                "y": {"field": "y", "type": "quantitative", "scale": {"domain": [-0.6, 1.8], "nice": false, "zero": false}, "axis": {"values": [0, 1], "format": ".0f", "title": "ΔmH"}}},
   "layer": [{"data": {"name": "p2"}, "mark": "circle"}, {"data": {"name": "l2"}, "mark": "line"}]},
  {"width": 308, "height": 204,
   "encoding": {"x": {"field": "x", "type": "quantitative", "scale": {"domain": [1, 3], "nice": false, "zero": false}, "axis": {"values": [1, 2, 3], "format": ".0f", "title": "mN sediment"}},
                "y": {"field": "y", "type": "quantitative", "scale": {"domain": [-1.8, 1], "nice": false, "zero": false}, "axis": {"values": [-1, 0, 1], "format": ".0f", "title": "ΔmN"}}},
   "layer": [{"data": {"name": "p3"}, "mark": "circle"}, {"data": {"name": "l3"}, "mark": "line"}]}
 ], "spacing": 10},
 {"hconcat": [
  {"width": 291, "height": 204,
   "encoding": {"x": {"field": "x", "type": "quantitative", "scale": {"domain": [1, 4.5], "nice": false, "zero": false}, "axis": {"values": [1, 2, 3, 4], "title": "mO sediment"}},
                "y": {"field": "y", "type": "quantitative", "scale": {"domain": [-2, 2], "nice": false, "zero": false}, "axis": {"values": [-2, -1, 0, 1, 2], "format": ".0f", "title": "ΔmO"}}},
   "layer": [{"data": {"name": "p4"}, "mark": "circle"}, {"data": {"name": "l4"}, "mark": "line"}]},
  {"width": 309, "height": 204,
   "encoding": {"x": {"field": "x", "type": "quantitative", "scale": {"domain": [1, 4], "nice": false, "zero": false}, "axis": {"values": [1, 2, 3, 4], "title": "mS sediment"}},
                "y": {"field": "y", "type": "quantitative", "scale": {"domain": [-2, 2], "nice": false, "zero": false}, "axis": {"values": [-2, -1, 0, 1, 2], "format": ".0f", "title": "ΔmS"}}},
   "layer": [{"data": {"name": "p5"}, "mark": "circle"}, {"data": {"name": "l5"}, "mark": "line"}]},
  {"width": 310, "height": 204,
   "encoding": {"x": {"field": "x", "type": "quantitative", "scale": {"domain": [1, 6], "nice": false, "zero": false}, "axis": {"values": [1, 2, 3, 4, 5, 6], "title": "mT sediment"}},
                "y": {"field": "y", "type": "quantitative", "scale": {"domain": [-2, 2], "nice": false, "zero": false}, "axis": {"values": [-2, -1, 0, 1, 2], "format": ".0f", "title": "ΔmT"}}},
   "layer": [{"data": {"name": "p6"}, "mark": "circle"}, {"data": {"name": "l6"}, "mark": "line"}]}
 ], "spacing": 8}
],
"spacing": 12
}
